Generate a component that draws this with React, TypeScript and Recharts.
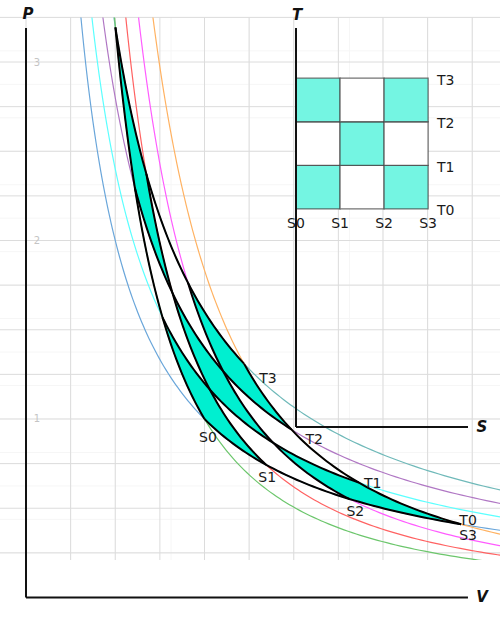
import {
  ComposedChart,
  Line,
  Area,
  XAxis,
  YAxis,
  CartesianGrid,
  ReferenceLine,
  ReferenceDot,
  ReferenceArea,
} from 'recharts';

// levels of the isotherms T0..T3 and adiabats S0..S3 (ideal gas, V = e^S * T^-1/(gamma-1))
const temperatures = [1, 1.2, 1.4, 1.6];
const entropies = [0, 0.297, 0.594, 0.891];
const tempLabels = ['T0', 'T1', 'T2', 'T3'];
const entropyLabels = ['S0', 'S1', 'S2', 'S3'];
const gamma = 1.68;
const pTicks = [1, 2, 3];

const isothermColors = ['#6aa6da', '#5cffff', '#b077c4', '#6fb9b9'];
const adiabatColors = ['#6cc66c', '#ff6262', '#ff5cff', '#ffb262'];

const majorV = [0, 0.25, 0.5, 0.75, 1, 1.25, 1.5, 1.75, 2, 2.25, 2.5];
const majorP = [0.25, 0.5, 0.75, 1, 1.25, 1.5, 1.75, 2, 2.25, 2.5, 2.75, 3, 3.25];

const W = 500;
const H = 624;
const vDomain = [-0.1457, 2.6555];
const pDomain = [0.21, 3.25];
const sDomain = [0, 1.16];
const tDomain = [0, 1.83];
const pAxisTop = 3.19;
const vAxisEnd = 2.476;

const CELL = '#00efd0';
const CELL_LIGHT = '#74f5e2';
const FONT = '"DejaVu Sans", sans-serif';

const k = 1 / (gamma - 1);
const volumeAt = (s: number, t: number) => Math.exp(s) * Math.pow(t, -k);
const isoP = (t: number, v: number) => t / v;
const adiP = (s: number, v: number) => Math.exp(s / k) * Math.pow(v, -gamma);

function sampleV(v0: number, v1: number, n: number, extra: number[] = []) {
  const out: number[] = [];
  for (let i = 0; i <= n; i++) out.push(v0 * Math.pow(v1 / v0, i / n));
  return [...out, ...extra].sort((a, b) => a - b);
}

const minorV: number[] = [];
for (let v = -0.125; v < 2.66; v += 0.0625) minorV.push(v);
const minorP: number[] = [];
for (let p = 0.25; p <= 3.25; p += 0.0625) minorP.push(p);

const isothermCurves = temperatures.map((t) =>
  sampleV(t / 3.4, 2.8, 140).map((v) => ({ v, p: isoP(t, v) }))
);
const adiabatCurves = entropies.map((s) =>
  sampleV(Math.pow(Math.exp(s / k) / 3.4, 1 / gamma), 2.8, 140).map((v) => ({ v, p: adiP(s, v) }))
);

const sFirst = entropies[0];
const sLast = entropies[entropies.length - 1];
const tFirst = temperatures[0];
const tLast = temperatures[temperatures.length - 1];

const isothermEdges = temperatures.map((t) =>
  sampleV(volumeAt(sFirst, t), volumeAt(sLast, t), 60).map((v) => ({ v, p: isoP(t, v) }))
);
const adiabatEdges = entropies.map((s) =>
  sampleV(volumeAt(s, tLast), volumeAt(s, tFirst), 60).map((v) => ({ v, p: adiP(s, v) }))
);

const cells: { key: string; filled: boolean; data: { v: number; band: number[] }[] }[] = [];
for (let i = 0; i < entropies.length - 1; i++) {
  for (let j = 0; j < temperatures.length - 1; j++) {
    const s0 = entropies[i];
    const s1 = entropies[i + 1];
    const t0 = temperatures[j];
    const t1 = temperatures[j + 1];
    const vs = sampleV(volumeAt(s0, t1), volumeAt(s1, t0), 90, [volumeAt(s0, t0), volumeAt(s1, t1)]);
    const data = vs.map((v) => {
      const lo = Math.max(adiP(s0, v), isoP(t0, v));
      const hi = Math.min(adiP(s1, v), isoP(t1, v));
      return { v, band: [lo, Math.max(lo, hi)] };
    });
    cells.push({ key: `c${i}${j}`, filled: (i + j) % 2 === 0, data });
  }
}

// labels next to the corners of the P-V grid: [text, S index, T index, dx, dy]
const pvLabels: [string, number, number, number, number][] = [
  ['S0', 0, 0, 3.5, 18],
  ['S1', 1, 0, 1, 12],
  ['S2', 2, 0, 6, 12],
  ['S3', 3, 0, 7, 11],
  ['T0', 3, 0, 7, -4],
  ['T1', 3, 1, 14, 0],
  ['T2', 3, 2, 23, 10],
  ['T3', 3, 3, 24, 14],
];

const textShape = (label: string, dx: number, dy: number, style: any = {}) => (props: any) => (
  <text
    x={props.cx + dx}
    y={props.cy + dy}
    textAnchor="middle"
    dominantBaseline="central"
    fontFamily={FONT}
    fontSize={14}
    fill="#1a1a1a"
    {...style}
  >
    {label}
  </text>
);

const axisTitle = { fontWeight: 'bold', fontStyle: 'italic', fontSize: 15, fill: '#111' };

export default function App() {
  return (
    <div style={{ position: 'fixed', left: 0, top: 0, width: W, height: H, background: '#fff' }}>
      <div style={{ position: 'absolute', left: 0, top: 0 }}>
        <ComposedChart width={W} height={H} margin={{ top: 17.4, right: 0, bottom: 64, left: 0 }}>
          <XAxis type="number" dataKey="v" domain={vDomain} allowDataOverflow hide />
          <YAxis type="number" domain={pDomain} allowDataOverflow hide />
          <CartesianGrid verticalValues={minorV} horizontalValues={minorP} stroke="#f6f6f6" strokeWidth={1} />
          <CartesianGrid verticalValues={majorV} horizontalValues={majorP} stroke="#dcdcdc" strokeWidth={1} />
          {isothermCurves.map((d, i) => (
            <Line key={`iso${i}`} data={d} dataKey="p" type="linear" stroke={isothermColors[i]} strokeWidth={1.2}
              dot={false} activeDot={false} isAnimationActive={false} />
          ))}
          {adiabatCurves.map((d, i) => (
            <Line key={`adi${i}`} data={d} dataKey="p" type="linear" stroke={adiabatColors[i]} strokeWidth={1.2}
              dot={false} activeDot={false} isAnimationActive={false} />
          ))}
          {cells.map((c) => (
            <Area key={c.key} data={c.data} dataKey="band" type="linear" stroke="none"
              fill={c.filled ? CELL : '#ffffff'} fillOpacity={1} dot={false} activeDot={false} isAnimationActive={false} />
          ))}
          {isothermEdges.map((d, i) => (
            <Line key={`isoE${i}`} data={d} dataKey="p" type="linear" stroke="#000" strokeWidth={2}
              dot={false} activeDot={false} isAnimationActive={false} />
          ))}
          {adiabatEdges.map((d, i) => (
            <Line key={`adiE${i}`} data={d} dataKey="p" type="linear" stroke="#000" strokeWidth={2}
              dot={false} activeDot={false} isAnimationActive={false} />
          ))}
          <ReferenceLine segment={[{ x: 0, y: 0 }, { x: 0, y: pAxisTop }]} stroke="#111" strokeWidth={2} ifOverflow="visible" />
          <ReferenceLine segment={[{ x: 0, y: 0 }, { x: vAxisEnd, y: 0 }]} stroke="#111" strokeWidth={2} ifOverflow="visible" />
          {pTicks.map((t) => (
            <ReferenceDot key={`pt${t}`} x={0} y={t} r={0} ifOverflow="visible"
              shape={textShape(String(t), 11, 0, { fontSize: 10, fill: '#c4c4c4' })} />
          ))}
          <ReferenceDot x={0} y={pAxisTop} r={0} ifOverflow="visible" shape={textShape('P', 2, -14, axisTitle)} />
          <ReferenceDot x={vAxisEnd} y={0} r={0} ifOverflow="visible" shape={textShape('V', 14, 0, axisTitle)} />
          {pvLabels.map(([label, si, ti, dx, dy]) => {
            const v = volumeAt(entropies[si], temperatures[ti]);
            return (
              <ReferenceDot key={label} x={v} y={isoP(temperatures[ti], v)} r={0} ifOverflow="visible"
                shape={textShape(label, dx, dy)} />
            );
          })}
        </ComposedChart>
      </div>
      <div style={{ position: 'absolute', left: 0, top: 0 }}>
        <ComposedChart width={W} height={H} data={[]} margin={{ top: 28, right: 32, bottom: 197, left: 296 }}>
          <XAxis type="number" dataKey="s" domain={sDomain} allowDataOverflow hide />
          <YAxis type="number" domain={tDomain} allowDataOverflow hide />
          {cells.map((c, n) => {
            const i = Math.floor(n / 3);
            const j = n % 3;
            return (
              <ReferenceArea key={`ts${c.key}`} x1={entropies[i]} x2={entropies[i + 1]}
                y1={temperatures[j]} y2={temperatures[j + 1]}
                fill={c.filled ? CELL_LIGHT : '#ffffff'} fillOpacity={1}
                stroke="#444" strokeOpacity={0.75} strokeWidth={1.3} />
            );
          })}
          <ReferenceLine x={0} stroke="#111" strokeWidth={2} />
          <ReferenceLine y={0} stroke="#111" strokeWidth={2} />
          {tempLabels.map((label, j) => (
            <ReferenceDot key={label} x={sLast} y={temperatures[j]} r={0} ifOverflow="visible"
              shape={textShape(label, 17.5, 1.5)} />
          ))}
          {entropyLabels.map((label, i) => (
            <ReferenceDot key={label} x={entropies[i]} y={tFirst} r={0} ifOverflow="visible"
              shape={textShape(label, 0, 14)} />
          ))}
          <ReferenceDot x={0} y={tDomain[1]} r={0} ifOverflow="visible" shape={textShape('T', 1, -13, axisTitle)} />
          <ReferenceDot x={sDomain[1]} y={0} r={0} ifOverflow="visible" shape={textShape('S', 14, 0, axisTitle)} />
        </ComposedChart>
      </div>
    </div>
  );
}
